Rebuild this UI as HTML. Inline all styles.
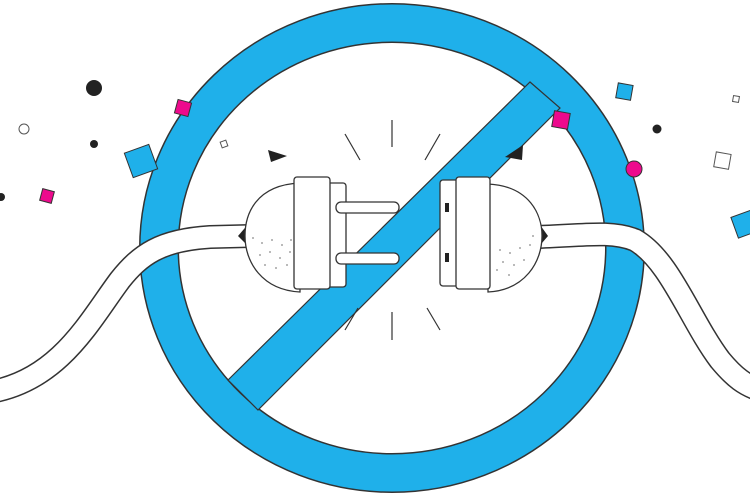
<!DOCTYPE html>
<html><head><meta charset="utf-8"><style>html,body{margin:0;padding:0;background:#fff}svg{display:block}</style></head>
<body>
<svg width="750" height="500" viewBox="0 0 750 500" xmlns="http://www.w3.org/2000/svg">
<!-- ring -->
<ellipse cx="392" cy="248" rx="233" ry="225" fill="none" stroke="#333" stroke-width="40"/>
<ellipse cx="392" cy="248" rx="233" ry="225" fill="none" stroke="#1fb0ea" stroke-width="37"/>
<!-- slash -->
<polygon points="228,380 530,82 560,108 258,410" fill="#1fb0ea" stroke="#333" stroke-width="1.2"/>
<!-- cords -->
<path d="M-10,392 C60,380 90,320 120,280 C140,255 160,240 210,237 L250,236" fill="none" stroke="#333" stroke-width="24"/>
<path d="M-10,392 C60,380 90,320 120,280 C140,255 160,240 210,237 L250,236" fill="none" stroke="#fff" stroke-width="21"/>
<path d="M535,237 C580,236 610,230 635,240 C670,260 690,320 720,360 C735,378 745,385 760,390" fill="none" stroke="#333" stroke-width="24"/>
<path d="M535,237 C580,236 610,230 635,240 C670,260 690,320 720,360 C735,378 745,385 760,390" fill="none" stroke="#fff" stroke-width="21"/>
<!-- left plug -->
<path d="M238,236 L250,222 L252,250 Z" fill="#222"/>
<path d="M300,183 C255,185 245,215 245,236 C245,262 262,290 300,292 Z" fill="#fff" stroke="#333" stroke-width="1.3"/>
<g fill="#888">
<circle cx="253" cy="238" r="0.9"/><circle cx="262" cy="243" r="0.9"/><circle cx="272" cy="240" r="0.9"/><circle cx="282" cy="245" r="0.9"/><circle cx="260" cy="255" r="0.9"/><circle cx="270" cy="252" r="0.9"/><circle cx="280" cy="258" r="0.9"/><circle cx="290" cy="252" r="0.9"/><circle cx="265" cy="265" r="0.9"/><circle cx="276" cy="268" r="0.9"/><circle cx="287" cy="265" r="0.9"/><circle cx="291" cy="240" r="0.9"/></g>
<rect x="327" y="183" width="19" height="104" rx="3" fill="#fff" stroke="#333" stroke-width="1.3"/>
<rect x="294" y="177" width="36" height="112" rx="3" fill="#fff" stroke="#333" stroke-width="1.3"/>
<rect x="336" y="202" width="63" height="11" rx="5" fill="#fff" stroke="#333" stroke-width="1.3"/>
<rect x="336" y="253" width="63" height="11" rx="5" fill="#fff" stroke="#333" stroke-width="1.3"/>
<!-- right plug -->
<path d="M548,236 L538,222 L536,250 Z" fill="#222"/>
<path d="M488,184 C530,186 542,215 542,236 C542,262 525,290 488,292 Z" fill="#fff" stroke="#333" stroke-width="1.3"/>
<g fill="#888">
<circle cx="500" cy="250" r="0.9"/><circle cx="510" cy="253" r="0.9"/><circle cx="520" cy="248" r="0.9"/><circle cx="530" cy="245" r="0.9"/><circle cx="503" cy="262" r="0.9"/><circle cx="514" cy="265" r="0.9"/><circle cx="524" cy="260" r="0.9"/><circle cx="497" cy="270" r="0.9"/><circle cx="509" cy="275" r="0.9"/><circle cx="533" cy="236" r="0.9"/></g>
<rect x="440" y="180" width="20" height="106" rx="3" fill="#fff" stroke="#333" stroke-width="1.3"/>
<rect x="456" y="177" width="34" height="112" rx="3" fill="#fff" stroke="#333" stroke-width="1.3"/>
<rect x="445" y="203" width="4" height="9" fill="#222"/>
<rect x="445" y="253" width="4" height="9" fill="#222"/>
<!-- burst lines -->
<g stroke="#333" stroke-width="1.2" fill="none">
<line x1="392" y1="120" x2="392" y2="147"/>
<line x1="345" y1="134" x2="360" y2="160"/>
<line x1="440" y1="134" x2="425" y2="160"/>
<line x1="392" y1="312" x2="392" y2="340"/>
<line x1="345" y1="330" x2="358" y2="308"/>
<line x1="440" y1="330" x2="427" y2="308"/>
</g>
<!-- triangles -->
<polygon points="268,150 287,156 271,162" fill="#222"/>
<polygon points="505,157 523,145 522,160" fill="#222"/>
<!-- confetti -->
<circle cx="94" cy="88" r="8" fill="#222"/>
<circle cx="24" cy="129" r="5" fill="none" stroke="#555" stroke-width="1"/>
<circle cx="94" cy="144" r="4" fill="#222"/>
<circle cx="1" cy="197" r="4" fill="#222"/>
<rect x="176" y="101" width="14" height="14" fill="#ed0a8d" stroke="#333" transform="rotate(15 183 108)"/>
<rect x="128" y="148" width="26" height="26" fill="#1fb0ea" stroke="#333" transform="rotate(-20 141 161)"/>
<rect x="41" y="190" width="12" height="12" fill="#ed0a8d" stroke="#333" transform="rotate(15 47 196)"/>
<rect x="221" y="141" width="6" height="6" fill="none" stroke="#555" transform="rotate(-20 224 144)"/>
<rect x="617" y="84" width="15" height="15" fill="#1fb0ea" stroke="#333" transform="rotate(10 624 91)"/>
<rect x="553" y="112" width="16" height="16" fill="#ed0a8d" stroke="#333" transform="rotate(10 561 120)"/>
<circle cx="657" cy="129" r="4.5" fill="#222"/>
<circle cx="634" cy="169" r="8" fill="#ed0a8d" stroke="#333"/>
<rect x="715" y="153" width="15" height="15" fill="none" stroke="#555" transform="rotate(10 722 160)"/>
<rect x="733" y="96" width="6" height="6" fill="none" stroke="#555" transform="rotate(10 736 99)"/>
<rect x="734" y="213" width="22" height="22" fill="#1fb0ea" stroke="#333" transform="rotate(-20 745 224)"/>
</svg>
</body></html>
